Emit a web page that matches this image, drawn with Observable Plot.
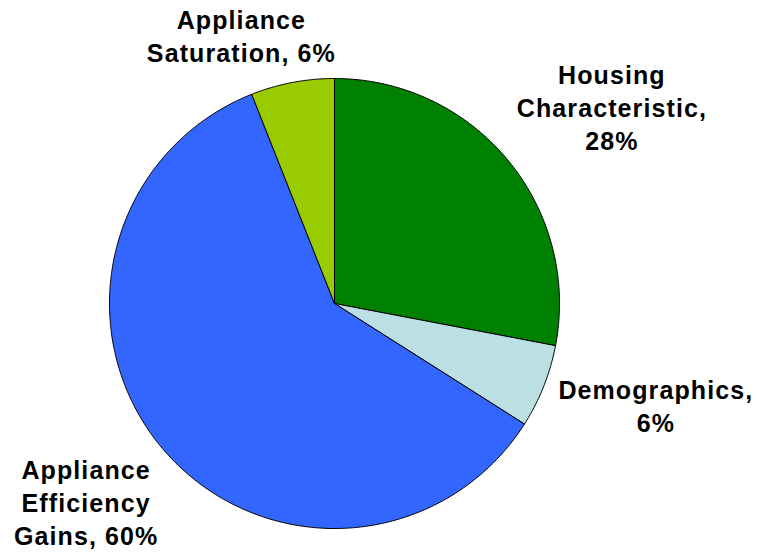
<!DOCTYPE html>
<html>
<head>
<meta charset="utf-8">
<script src="https://cdn.jsdelivr.net/npm/d3@7"></script>
<script src="https://cdn.jsdelivr.net/npm/@observablehq/plot@0.6"></script>
<style>
  html, body { margin: 0; padding: 0; background: #ffffff; }
  #chart { width: 757px; height: 554px; }
  #chart svg text { letter-spacing: 1.1px; }
</style>
</head>
<body>
<div id="chart"></div>
<script>
// Data (clockwise from 12 o'clock)
const categories = ["Housing Characteristic", "Demographics", "Appliance Efficiency Gains", "Appliance Saturation"];
const shares = [28, 6, 60, 6];
const labels = ["Housing\nCharacteristic,\n28%", "Demographics,\n6%", "Appliance\nEfficiency\nGains, 60%", "Appliance\nSaturation, 6%"];
const colors = ["#008000", "#BBE0E3", "#3366FF", "#99CC00"];

// Label nudges (style only, pixels)
const labelDx = [26, 18, 3, -32];
const labelDy = [11, -19, -10, 52];

const pie = d3.pie().sort(null).value(d => d)(shares);

// Build slice outlines from the pie angles
const slicePts = [];
pie.forEach((p, i) => {
  const name = categories[i];
  slicePts.push({slice: name, x: 0, y: 0});
  const n = Math.max(2, Math.ceil((p.endAngle - p.startAngle) / (Math.PI / 360)));
  for (let k = 0; k <= n; k++) {
    const a = p.startAngle + (p.endAngle - p.startAngle) * k / n;
    slicePts.push({slice: name, x: Math.sin(a), y: Math.cos(a)});
  }
  slicePts.push({slice: name, x: 0, y: 0});
});

const labelRows = pie.map((p, i) => {
  const a = (p.startAngle + p.endAngle) / 2;
  return {slice: categories[i], text: labels[i], x: 1.45 * Math.sin(a), y: 1.45 * Math.cos(a), dx: labelDx[i], dy: labelDy[i]};
});

const chart = Plot.plot({
  width: 757,
  height: 554,
  margin: 0,
  x: {domain: [-1, 1], range: [109, 559], axis: null},
  y: {domain: [-1, 1], range: [528, 78], axis: null},
  color: {domain: categories, range: colors},
  style: {background: "#ffffff", overflow: "visible"},
  marks: [
    Plot.line(slicePts, {x: "x", y: "y", z: "slice", fill: "slice", stroke: "#000000", strokeWidth: 1, strokeLinejoin: "round"}),
    ...labelRows.map(r => Plot.text([r], {
      x: "x", y: "y", text: "text", dx: r.dx, dy: r.dy,
      fontSize: 25, fontWeight: "bold", fontFamily: "Liberation Sans, Arial, sans-serif",
      lineHeight: 1.32, fill: "#000000", textAnchor: "middle", lineAnchor: "middle"
    }))
  ]
});

document.getElementById("chart").appendChild(chart);
</script>
</body>
</html>
